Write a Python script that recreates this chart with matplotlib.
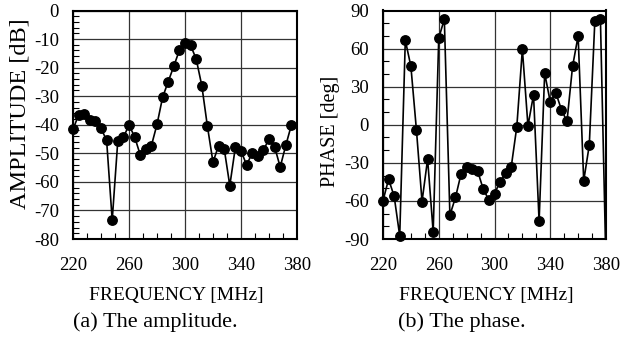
import numpy as np
import matplotlib
matplotlib.use("Agg")
import matplotlib.pyplot as plt
from matplotlib.ticker import MultipleLocator

plt.rcParams['font.family'] = ['Liberation Serif', 'DejaVu Serif']

freq_mhz = [220, 224, 228, 232, 236, 240, 244, 248, 252, 256,
            260, 264, 268, 272, 276, 280, 284, 288, 292, 296,
            300, 304, 308, 312, 316, 320, 324, 328, 332, 336,
            340, 344, 348, 352, 356, 360, 364, 368, 372, 376]

amplitude_db = [-41.6, -36.6, -36.2, -38.4, -38.8, -41.3, -45.4, -73.4, -45.6, -44.4,
                -40.1, -44.2, -50.5, -48.4, -47.3, -39.9, -30.4, -24.9, -19.5, -13.9,
                -11.5, -12.2, -17.0, -26.3, -40.5, -53.1, -47.3, -48.4, -61.3, -47.8,
                -49.1, -54.1, -49.9, -50.8, -49.0, -44.9, -47.7, -54.8, -47.2, -40.1]

phase_freq_mhz = freq_mhz + [380]
phase_deg = [-59.9, -42.9, -56.3, -87.5, 66.6, 46.1, -4.3, -60.5, -27.1, -84.4,
             68.2, 83.2, -71.2, -57.3, -38.7, -33.2, -35.0, -36.8, -51.0, -59.2,
             -54.2, -45.0, -38.2, -33.2, -1.6, 59.5, -0.9, 23.6, -76.0, 40.6,
             18.0, 25.1, 12.0, 2.6, 45.9, 70.0, -44.2, -16.1, 81.9, 83.2, -112.0]

amp_ticks = [0, -10, -20, -30, -40, -50, -60, -70, -80]
phase_ticks = [90, 60, 30, 0, -30, -60, -90]
freq_ticks = [220, 260, 300, 340, 380]

W, H = 630, 339
fig = plt.figure(figsize=(W / 100, H / 100), dpi=100)

ax1 = fig.add_axes([73 / W, (H - 239) / H, 224 / W, 228.5 / H])
ax2 = fig.add_axes([383 / W, (H - 239) / H, 223 / W, 228.5 / H])


def draw(ax, x, y, ylim, yticks, yminor, ylabel, ylab_pos, ylab_size,
         caption, xlab_cx, cap_cx):
    x = np.asarray(x, dtype=float)
    y = np.asarray(y, dtype=float)
    ax.plot(x, y, color='black', lw=1.2, zorder=3)
    inside = (y >= ylim[0]) & (y <= ylim[1]) & (x >= 220) & (x <= 380)
    ax.plot(x[inside], y[inside], ls='none', marker='o', ms=6.8,
            color='black', clip_on=False, zorder=4)
    ax.set_xlim(220, 380)
    ax.set_ylim(*ylim)
    ax.set_xticks(freq_ticks)
    ax.set_xticklabels([str(t) for t in freq_ticks])
    ax.set_yticks(yticks)
    ax.set_yticklabels([str(t) for t in yticks])
    ax.xaxis.set_minor_locator(MultipleLocator(10))
    ax.yaxis.set_minor_locator(MultipleLocator(yminor))
    ax.grid(True, which='major', color='#333333', lw=0.9)
    ax.set_axisbelow(True)
    ax.tick_params(which='both', direction='in', top=False, right=False,
                   labelsize=13.5)
    ax.tick_params(axis='x', which='major', length=0, pad=13)
    ax.tick_params(axis='y', which='major', length=0, pad=10)
    ax.tick_params(which='minor', length=4, width=0.8)
    for s in ax.spines.values():
        s.set_linewidth(1.5)
    fig.text(ylab_pos[0] / W, (H - ylab_pos[1]) / H, ylabel, rotation=90,
             ha='center', va='center', fontsize=ylab_size)
    fig.text(xlab_cx / W, (H - 300) / H, 'FREQUENCY [MHz]', ha='center',
             va='baseline', fontsize=14)
    fig.text(cap_cx / W, (H - 327) / H, caption, ha='center',
             va='baseline', fontsize=16)


draw(ax1, freq_mhz, amplitude_db, (-80, 0), amp_ticks, 2,
     'AMPLITUDE [dB]', (20, 114), 17.5, '(a) The amplitude.', 176.5, 155)
draw(ax2, phase_freq_mhz, phase_deg, (-90, 90), phase_ticks, 10,
     'PHASE [deg]', (331, 131), 14.5, '(b) The phase.', 486, 462)

fig.savefig('out.png', dpi=100)
